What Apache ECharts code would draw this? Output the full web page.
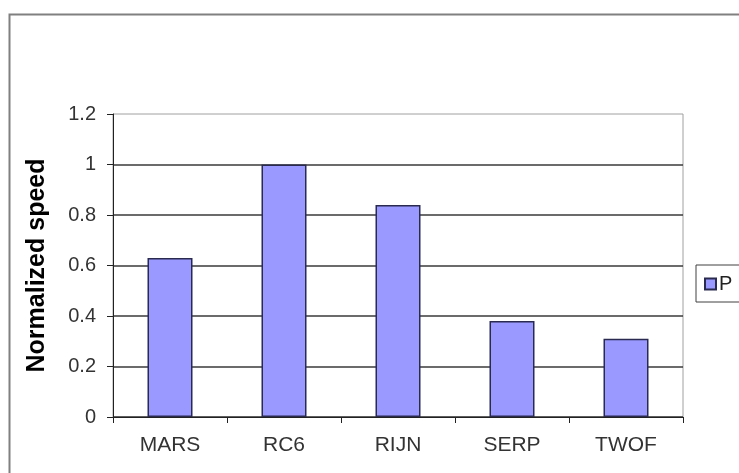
<!DOCTYPE html>
<html>
<head>
<meta charset="utf-8">
<script src="https://cdn.jsdelivr.net/npm/echarts@6/dist/echarts.min.js"></script>
<style>
html,body{margin:0;padding:0;background:#fff;}
#main{width:739px;height:473px;}
</style>
</head>
<body>
<div id="main"></div>
<script>
const categories = ['MARS', 'RC6', 'RIJN', 'SERP', 'TWOF'];
const speedValues = [0.63, 1.0, 0.84, 0.38, 0.31];
const seriesName = 'P';
const yTitle = 'Normalized speed';

const chart = echarts.init(document.getElementById('main'), null, {renderer: 'canvas'});
const font = 'Liberation Sans, Arial, sans-serif';
chart.setOption({
  animation: false,
  backgroundColor: '#fff',
  graphic: [{
    type: 'rect', left: 7, top: 12, z: -10,
    shape: {x: 0, y: 0, width: 800, height: 520},
    style: {fill: 'none', stroke: '#808080', lineWidth: 2}
  }],
  grid: {left: 113, right: 56, top: 114, bottom: 56, show: true, borderColor: '#a0a0a0', borderWidth: 1, backgroundColor: 'transparent'},
  legend: {
    left: 696, top: 265, orient: 'vertical',
    padding: [9, 60, 8, 8],
    borderColor: '#404040', borderWidth: 1, backgroundColor: '#fff',
    itemWidth: 11, itemHeight: 11, itemGap: 5,
    icon: 'rect',
    textStyle: {fontFamily: font, fontSize: 20, color: '#222', padding: [0, 0, 0, -2]},
    data: [seriesName]
  },
  xAxis: {
    type: 'category', data: categories,
    axisLine: {lineStyle: {color: '#222', width: 1}},
    axisTick: {show: true, length: 6, lineStyle: {color: '#222'}},
    axisLabel: {fontFamily: font, fontSize: 21, color: '#333', margin: 18}
  },
  yAxis: {
    type: 'value', min: 0, max: 1.2, interval: 0.2,
    name: yTitle, nameLocation: 'middle', nameGap: 63,
    nameTextStyle: {fontFamily: font, fontSize: 25, fontWeight: 'bold', color: '#000'},
    axisLine: {show: true, lineStyle: {color: '#222', width: 1}},
    axisTick: {show: true, length: 6, lineStyle: {color: '#222'}},
    axisLabel: {fontFamily: font, fontSize: 20, color: '#333', margin: 17,
      formatter: v => String(Math.round(v * 10) / 10)},
    splitLine: {show: true, showMaxLine: false, lineStyle: {color: '#3a3a3a', width: 1.5}}
  },
  series: [{
    name: seriesName, type: 'bar', data: speedValues, barWidth: 45,
    itemStyle: {color: '#9999ff', borderColor: '#2a2a50', borderWidth: 1.5}
  }]
});
</script>
</body>
</html>
